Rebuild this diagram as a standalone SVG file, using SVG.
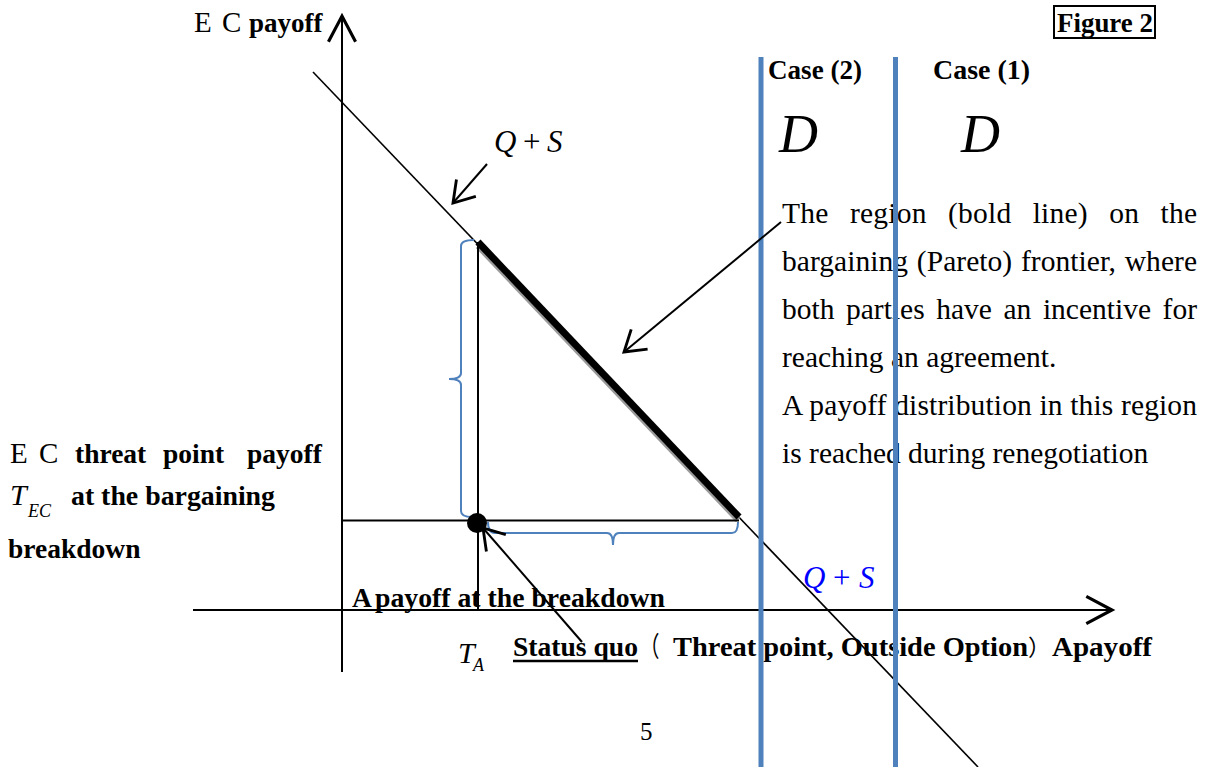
<svg xmlns="http://www.w3.org/2000/svg" width="1208" height="767" viewBox="0 0 1208 767">
<style>
.ser{font-family:"Liberation Serif","Times New Roman",serif;fill:#000}
.b{font-weight:bold}
.i{font-style:italic}
.cjk{font-family:"Liberation Serif","Noto Sans CJK JP",serif}
.ln{stroke:#000;fill:none}
.blue{stroke:#4f81bd;fill:none}
</style>
<defs>
<marker id="open" markerUnits="userSpaceOnUse" markerWidth="40" markerHeight="40" viewBox="-20 -14 24 28" refX="0" refY="0" orient="auto">
<path d="M-14,-9 L0,0 L-14,9" fill="none" stroke="#000" stroke-width="2"/>
</marker>
<marker id="axis" markerUnits="userSpaceOnUse" markerWidth="40" markerHeight="40" viewBox="-22 -14 26 28" refX="0" refY="0" orient="auto">
<path d="M-18,-9.5 L0,0 L-18,9.5" fill="none" stroke="#000" stroke-width="2.2"/>
</marker>
</defs>
<rect width="1208" height="767" fill="#fff"/>

<g id="labels">
<g id="ec-axis-label">
<text class="ser" y="32" font-size="29"><tspan x="194">E</tspan><tspan x="222">C</tspan><tspan class="b" x="249" font-size="27">payoff</tspan></text>
</g>
<g id="figure-label">
<rect x="1054" y="6" width="101" height="32" fill="none" stroke="#000" stroke-width="2"/>
<text class="ser b" x="1057" y="32" font-size="27" textLength="96" lengthAdjust="spacingAndGlyphs">Figure 2</text>
</g>
<g id="case2"><text class="ser b" x="768" y="79" font-size="27" textLength="94" lengthAdjust="spacingAndGlyphs">Case (2)</text>
<text class="ser i" x="779" y="152" font-size="54">D</text></g>
<g id="case1"><text class="ser b" x="933" y="79" font-size="27" textLength="97" lengthAdjust="spacingAndGlyphs">Case (1)</text>
<text class="ser i" x="961" y="152" font-size="54">D</text></g>
<g id="qs-top"><text class="ser" y="152" font-size="31"><tspan class="i" x="494">Q</tspan><tspan x="523">+</tspan><tspan class="i" x="547">S</tspan></text></g>
<g id="qs-bottom"><text class="ser" y="588" font-size="31" style="fill:#0000ff"><tspan class="i" x="803">Q</tspan><tspan x="833">+</tspan><tspan class="i" x="859">S</tspan></text></g>
<g id="region-note" class="ser" font-size="29.5">
<text x="782" y="223" word-spacing="13.7" textLength="415" lengthAdjust="spacing">The region (bold line) on the</text>
<text x="782" y="271" word-spacing="1.3" textLength="415" lengthAdjust="spacing">bargaining (Pareto) frontier, where</text>
<text x="782" y="319" word-spacing="4.2" textLength="415" lengthAdjust="spacing">both parties have an incentive for</text>
<text x="782" y="367">reaching an agreement.</text>
<text x="782" y="415" textLength="415" lengthAdjust="spacing">A payoff distribution in this region</text>
<text x="782" y="463">is reached during renegotiation</text>
</g>
<g id="ec-threat-label" class="ser" font-size="27.5">
<text y="463"><tspan x="10" font-size="29">E</tspan><tspan x="39" font-size="29">C</tspan><tspan class="b" x="75">threat</tspan><tspan class="b" x="163">point</tspan><tspan class="b" x="247">payoff</tspan></text>
<text y="505"><tspan class="i" x="10" font-size="30">T</tspan><tspan class="i" x="28" y="517" font-size="18">EC</tspan><tspan class="b" x="71" y="505" textLength="204" lengthAdjust="spacingAndGlyphs">at the bargaining</tspan></text>
<text class="b" x="8" y="558">breakdown</text>
</g>
<g id="a-breakdown-label">
<text class="ser b" y="607" font-size="27.5"><tspan x="352">A</tspan><tspan x="375" textLength="290" lengthAdjust="spacingAndGlyphs">payoff at the breakdown</tspan></text>
</g>
<g id="ta-label"><text class="ser i" x="458" y="663" font-size="30">T<tspan x="473" y="671" font-size="18">A</tspan></text></g>
<g id="status-quo-label">
<text class="ser b" y="656" font-size="27.5"><tspan x="513" textLength="125" lengthAdjust="spacingAndGlyphs">Status quo</tspan><tspan class="cjk" font-weight="normal" x="639.5" textLength="20" lengthAdjust="spacingAndGlyphs">（</tspan><tspan x="673" textLength="355" lengthAdjust="spacingAndGlyphs">Threat point, Outside Option</tspan><tspan class="cjk" font-weight="normal" font-size="22.5" x="1028">）</tspan><tspan x="1052" textLength="100" lengthAdjust="spacingAndGlyphs">Apayoff</tspan></text>
<line x1="513" y1="661" x2="638" y2="661" stroke="#000" stroke-width="2.5"/>
</g>
<g id="page-number"><text class="ser" x="640" y="740" font-size="25">5</text></g>
</g>

<g id="axes">
<line class="ln" x1="342" y1="672" x2="342" y2="16" stroke-width="2" marker-end="url(#axis)"/>
<line class="ln" x1="193" y1="610" x2="1112" y2="610" stroke-width="2" marker-end="url(#axis)"/>
</g>

<g id="frontier">
<line class="ln" x1="313" y1="72" x2="978" y2="767" stroke-width="1.6"/>
<line x1="478" y1="246" x2="738" y2="520" stroke="#9a9a9a" stroke-width="6"/>
<line x1="478" y1="242" x2="739" y2="517" stroke="#000" stroke-width="7"/>
</g>

<g id="threat-triangle">
<line class="ln" x1="478" y1="242" x2="478" y2="610" stroke-width="2"/>
<line class="ln" x1="342" y1="520.5" x2="739" y2="520.5" stroke-width="2"/>
<path class="blue" stroke-width="2" d="M474,240 Q461,240 461,246 L461,373 Q461,379 449,379 Q461,379 461,385 L461,511 Q461,517 472,517"/>
<path class="blue" stroke-width="2" d="M488,522 Q488,533 495,533 L607,533 Q613,533 613,545 Q613,533 619,533 L732,533 Q738,533 738,522"/>
</g>

<g id="threat-point"><circle cx="477" cy="523" r="10" fill="#000"/></g>

<g id="case-lines">
<line class="blue" x1="761" y1="57" x2="761" y2="767" stroke-width="5"/>
<line class="blue" x1="895.5" y1="57" x2="895.5" y2="767" stroke-width="5"/>
</g>

<g id="connectors">
<line class="ln" x1="487" y1="164" x2="453" y2="203" stroke-width="2" marker-end="url(#open)"/>
<line class="ln" x1="781" y1="222" x2="624" y2="352" stroke-width="2" marker-end="url(#open)"/>
<line class="ln" x1="582" y1="642" x2="483" y2="528" stroke-width="2" marker-end="url(#open)"/>
</g>
</svg>
